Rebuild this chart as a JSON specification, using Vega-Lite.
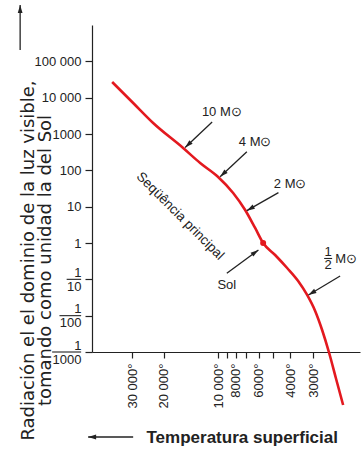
{
  "$schema": "https://vega.github.io/schema/vega-lite/v6.json",
  "width": 268,
  "height": 327,
  "autosize": "none",
  "padding": {"left": 92, "top": 25, "right": 3, "bottom": 98},
  "background": "white",
  "config": {
    "view": {"stroke": null},
    "axis": {"grid": false, "domainColor": "#222", "tickColor": "#222", "labelColor": "#222", "titleColor": "#222", "labelFont": "Liberation Sans", "labelFontSize": 13, "domainWidth": 1.2, "tickWidth": 1.2}
  },
  "datasets": {
    "curve": [
      {"T": 38690, "L": 27040},
      {"T": 29610, "L": 7145},
      {"T": 22960, "L": 2010},
      {"T": 15670, "L": 412},
      {"T": 12620, "L": 159},
      {"T": 10040, "L": 65.6},
      {"T": 8291, "L": 23.8},
      {"T": 7118, "L": 8.1},
      {"T": 6269, "L": 2.59},
      {"T": 5661, "L": 1.0},
      {"T": 4861, "L": 0.4677},
      {"T": 4171, "L": 0.2051},
      {"T": 3626, "L": 0.0899},
      {"T": 3234, "L": 0.0371},
      {"T": 2920, "L": 0.01344},
      {"T": 2672, "L": 0.004033},
      {"T": 2443, "L": 0.000939},
      {"T": 2236, "L": 0.0001806},
      {"T": 2045, "L": 0.0000348}
    ],
    "sun": [{"T": 5661, "L": 1.0}],
    "arrows": [
      {"T": 15280, "L": 425, "T2": 10835, "L2": 2143, "ang": 227},
      {"T": 9786, "L": 66.9, "T2": 6966, "L2": 326, "ang": 227},
      {"T": 6966, "L": 7.75, "T2": 4659, "L2": 24.3, "ang": 240},
      {"T": 6010, "L": 0.643, "T2": 8987, "L2": 0.1466, "ang": 54},
      {"T": 3180, "L": 0.0371, "T2": 2125, "L2": 0.1236, "ang": 239},
      {"T": 124800, "L": 3560000, "T2": 124800, "L2": 205400, "ang": 0},
      {"T": 52520, "L": 0.000004575, "T2": 29610, "L2": 0.000004575, "ang": 270}
    ],
    "bars": [
      {"T": 69040, "T2": 57420, "L": 0.1},
      {"T": 75660, "T2": 57420, "L": 0.01},
      {"T": 83060, "T2": 57420, "L": 0.001},
      {"T": 2604, "T2": 2352, "L": 0.3748}
    ],
    "labels": [
      {"T": 9576, "L": 4113, "text": "10 M⊙"},
      {"T": 6269, "L": 615, "text": "4 M⊙"},
      {"T": 4016, "L": 42.1, "text": "2 M⊙"},
      {"T": 8987, "L": 0.0698, "text": "Sol"},
      {"T": 2475, "L": 0.5655, "text": "1"},
      {"T": 2475, "L": 0.2404, "text": "2"},
      {"T": 1969, "L": 0.363, "text": "M⊙"}
    ],
    "seq": [{"T": 16280, "L": 5.53, "text": "Seqüência principal"}]
  },
  "encoding": {
    "x": {
      "field": "T",
      "type": "quantitative",
      "scale": {"type": "log", "domain": [1650, 50000], "reverse": true, "nice": false, "zero": false},
      "axis": {
        "values": [30000, 20000, 10000, 9000, 8000, 7000, 6000, 5000, 4000, 3000],
        "labelExpr": "datum.value == 30000 ? '30 000°' : datum.value == 20000 ? '20 000°' : datum.value == 10000 ? '10 000°' : (datum.value == 9000 || datum.value == 7000 || datum.value == 5000) ? '' : format(datum.value, 'd') + '°'",
        "labelAngle": -90,
        "labelPadding": 5,
        "tickSize": 6,
        "labelOverlap": false,
        "labelFlush": false,
        "title": "Temperatura superficial",
        "titleFont": "Liberation Sans",
        "titleFontSize": 17,
        "titleFontWeight": "bold",
        "titleX": 54,
        "titleY": 85,
        "titleAlign": "left",
        "titleBaseline": "middle",
        "titleAngle": 0
      }
    },
    "y": {
      "field": "L",
      "type": "quantitative",
      "scale": {"type": "log", "domain": [0.001, 1000000], "nice": false},
      "axis": {
        "values": [0.001, 0.01, 0.1, 1, 10, 100, 1000, 10000, 100000],
        "labelExpr": "datum.value >= 100000 ? '100 000' : datum.value >= 10000 ? '10 000' : datum.value >= 1 ? format(datum.value, 'd') : datum.value > 0.05 ? ['1\u00a0', '10'] : datum.value > 0.005 ? ['1\u00a0\u00a0', '100'] : ['1\u00a0\u00a0\u00a0', '1000']",
        "labelLineHeight": 14,
        "labelOffset": {"condition": {"test": "datum.value < 1", "value": -7}, "value": 0},
        "labelPadding": 4,
        "tickSize": 7,
        "labelOverlap": false,
        "labelFlush": false,
        "title": ["Radiación el el dominio de la luz visible,", "tomando como unidad la del Sol"],
        "titleFont": "DejaVu Sans",
        "titleFontSize": 18,
        "titleFontWeight": "normal",
        "titleLineHeight": 17,
        "titleAngle": -90,
        "titleX": -63.5,
        "titleY": 235,
        "titleAlign": "center",
        "titleBaseline": "middle"
      }
    }
  },
  "layer": [
    {
      "data": {"name": "curve"},
      "mark": {"type": "line", "color": "#e3191f", "strokeWidth": 2.6, "interpolate": "monotone"},
      "encoding": {"order": {"field": "T", "sort": "descending"}}
    },
    {
      "data": {"name": "sun"},
      "mark": {"type": "point", "filled": true, "size": 36, "color": "#e3191f", "opacity": 1}
    },
    {
      "data": {"name": "arrows"},
      "mark": {"type": "rule", "color": "#222", "strokeWidth": 1.3},
      "encoding": {"x2": {"field": "T2"}, "y2": {"field": "L2"}}
    },
    {
      "data": {"name": "arrows"},
      "mark": {"type": "point", "shape": "M0,0L0.6,2L-0.6,2Z", "filled": true, "size": 64, "color": "#222", "opacity": 1},
      "encoding": {"angle": {"field": "ang", "type": "quantitative", "scale": null}}
    },
    {
      "data": {"name": "bars"},
      "mark": {"type": "rule", "color": "#222", "strokeWidth": 1.1},
      "encoding": {"x2": {"field": "T2"}}
    },
    {
      "data": {"name": "labels"},
      "mark": {"type": "text", "font": "Liberation Sans", "fontSize": 13, "color": "#222", "align": "center", "baseline": "middle"},
      "encoding": {"text": {"field": "text"}}
    },
    {
      "data": {"name": "seq"},
      "mark": {"type": "text", "font": "Liberation Sans", "fontSize": 13.5, "color": "#222", "align": "center", "baseline": "middle", "angle": 45},
      "encoding": {"text": {"field": "text"}}
    }
  ]
}
